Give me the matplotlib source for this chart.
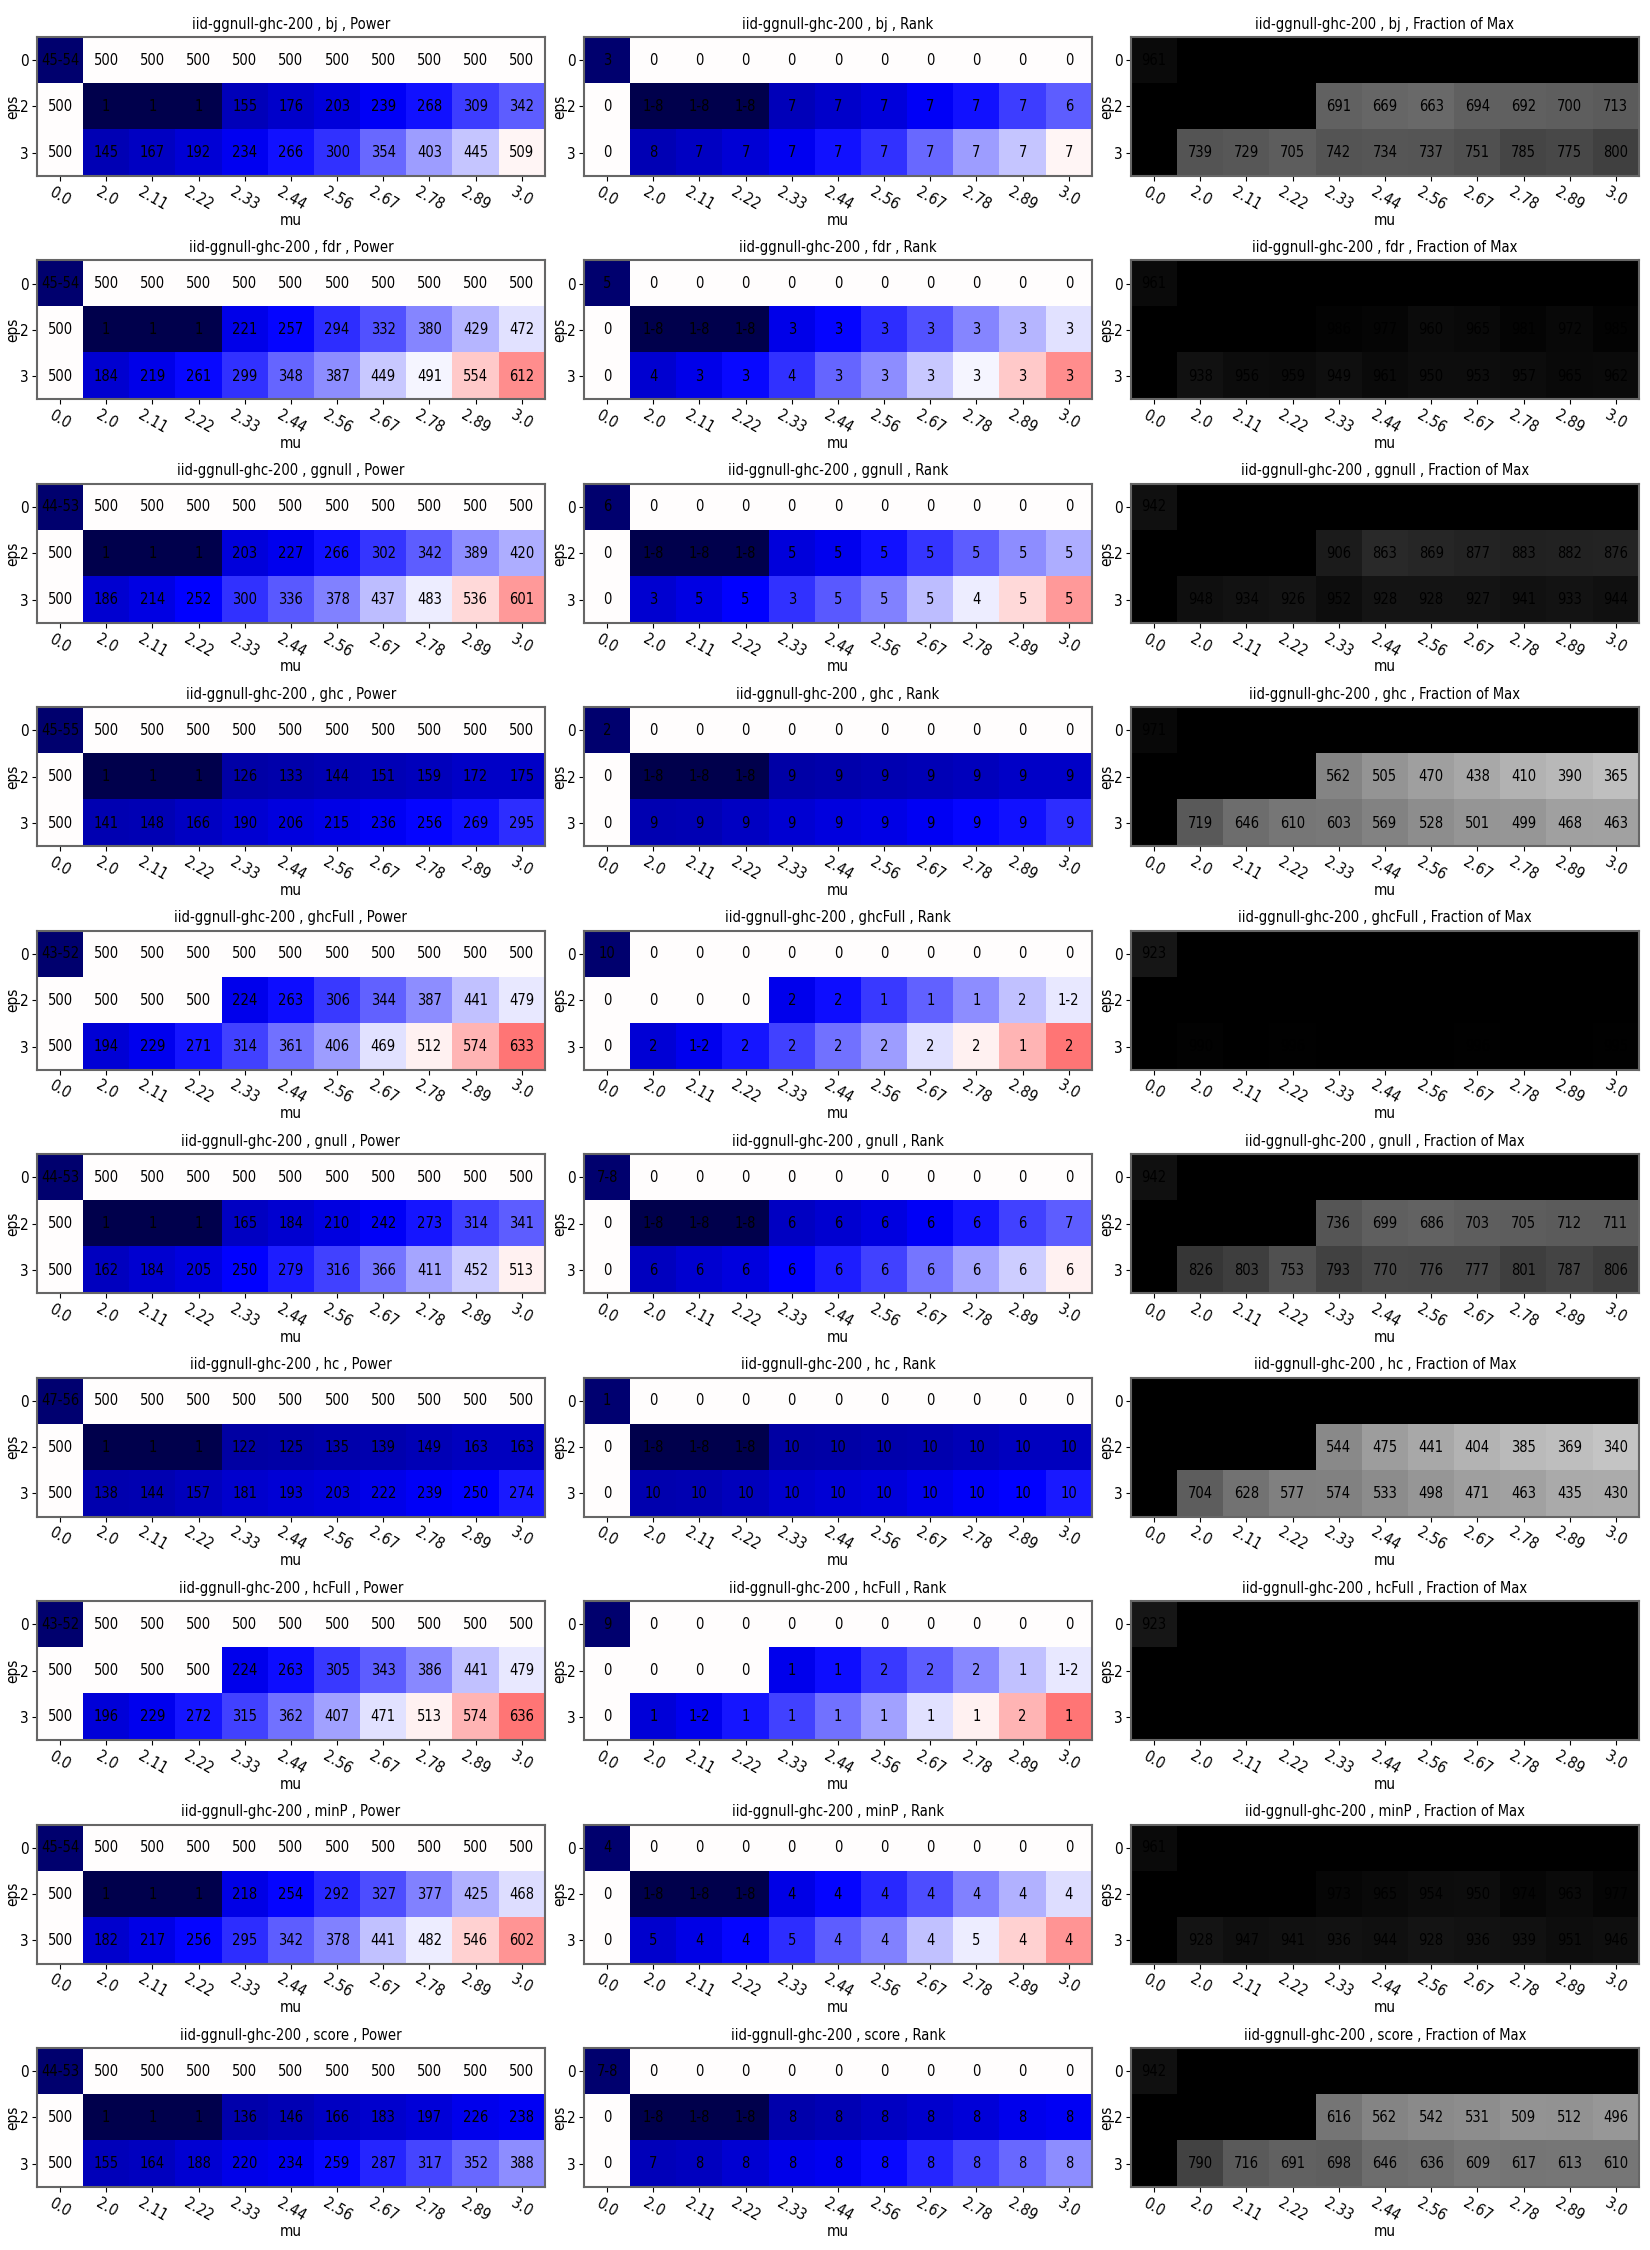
import numpy as np
import matplotlib
matplotlib.use('Agg')
import matplotlib.pyplot as plt

# Names used in the panel titles and on the axes.
SETTING = 'iid-ggnull-ghc-200'
METHODS = ['bj', 'fdr', 'ggnull', 'ghc', 'ghcFull', 'gnull', 'hc', 'hcFull', 'minP', 'score']
MU_LABELS = ['0.0', '2.0', '2.11', '2.22', '2.33', '2.44', '2.56', '2.67', '2.78', '2.89', '3.0']
EPS_LABELS = ['0', '2', '3']

# eps=0, mu=0 cell: power range, rank and fraction of max for every method.
NULL_POWER_LO = [45, 45, 44, 45, 43, 44, 47, 43, 45, 44]
NULL_POWER_HI = [54, 54, 53, 55, 52, 53, 56, 52, 54, 53]
NULL_RANK = ['3', '5', '6', '2', '10', '7-8', '1', '9', '4', '7-8']
NULL_FRAC = [961, 961, 942, 971, 923, 942, 1000, 923, 961, 942]

# Power, eps=2 row (one value per mu).
POWER_EPS2 = {
    'bj':      [500, 1, 1, 1, 155, 176, 203, 239, 268, 309, 342],
    'fdr':     [500, 1, 1, 1, 221, 257, 294, 332, 380, 429, 472],
    'ggnull':  [500, 1, 1, 1, 203, 227, 266, 302, 342, 389, 420],
    'ghc':     [500, 1, 1, 1, 126, 133, 144, 151, 159, 172, 175],
    'ghcFull': [500, 500, 500, 500, 224, 263, 306, 344, 387, 441, 479],
    'gnull':   [500, 1, 1, 1, 165, 184, 210, 242, 273, 314, 341],
    'hc':      [500, 1, 1, 1, 122, 125, 135, 139, 149, 163, 163],
    'hcFull':  [500, 500, 500, 500, 224, 263, 305, 343, 386, 441, 479],
    'minP':    [500, 1, 1, 1, 218, 254, 292, 327, 377, 425, 468],
    'score':   [500, 1, 1, 1, 136, 146, 166, 183, 197, 226, 238],
}

# Power, eps=3 row.
POWER_EPS3 = {
    'bj':      [500, 145, 167, 192, 234, 266, 300, 354, 403, 445, 509],
    'fdr':     [500, 184, 219, 261, 299, 348, 387, 449, 491, 554, 612],
    'ggnull':  [500, 186, 214, 252, 300, 336, 378, 437, 483, 536, 601],
    'ghc':     [500, 141, 148, 166, 190, 206, 215, 236, 256, 269, 295],
    'ghcFull': [500, 194, 229, 271, 314, 361, 406, 469, 512, 574, 633],
    'gnull':   [500, 162, 184, 205, 250, 279, 316, 366, 411, 452, 513],
    'hc':      [500, 138, 144, 157, 181, 193, 203, 222, 239, 250, 274],
    'hcFull':  [500, 196, 229, 272, 315, 362, 407, 471, 513, 574, 636],
    'minP':    [500, 182, 217, 256, 295, 342, 378, 441, 482, 546, 602],
    'score':   [500, 155, 164, 188, 220, 234, 259, 287, 317, 352, 388],
}

# Rank labels, eps=2 row.
RANK_EPS2 = {
    'bj':      ['0', '1-8', '1-8', '1-8', '7', '7', '7', '7', '7', '7', '6'],
    'fdr':     ['0', '1-8', '1-8', '1-8', '3', '3', '3', '3', '3', '3', '3'],
    'ggnull':  ['0', '1-8', '1-8', '1-8', '5', '5', '5', '5', '5', '5', '5'],
    'ghc':     ['0', '1-8', '1-8', '1-8', '9', '9', '9', '9', '9', '9', '9'],
    'ghcFull': ['0', '0', '0', '0', '2', '2', '1', '1', '1', '2', '1-2'],
    'gnull':   ['0', '1-8', '1-8', '1-8', '6', '6', '6', '6', '6', '6', '7'],
    'hc':      ['0', '1-8', '1-8', '1-8', '10', '10', '10', '10', '10', '10', '10'],
    'hcFull':  ['0', '0', '0', '0', '1', '1', '2', '2', '2', '1', '1-2'],
    'minP':    ['0', '1-8', '1-8', '1-8', '4', '4', '4', '4', '4', '4', '4'],
    'score':   ['0', '1-8', '1-8', '1-8', '8', '8', '8', '8', '8', '8', '8'],
}

# Rank labels, eps=3 row.
RANK_EPS3 = {
    'bj':      ['0', '8', '7', '7', '7', '7', '7', '7', '7', '7', '7'],
    'fdr':     ['0', '4', '3', '3', '4', '3', '3', '3', '3', '3', '3'],
    'ggnull':  ['0', '3', '5', '5', '3', '5', '5', '5', '4', '5', '5'],
    'ghc':     ['0', '9', '9', '9', '9', '9', '9', '9', '9', '9', '9'],
    'ghcFull': ['0', '2', '1-2', '2', '2', '2', '2', '2', '2', '1', '2'],
    'gnull':   ['0', '6', '6', '6', '6', '6', '6', '6', '6', '6', '6'],
    'hc':      ['0', '10', '10', '10', '10', '10', '10', '10', '10', '10', '10'],
    'hcFull':  ['0', '1', '1-2', '1', '1', '1', '1', '1', '1', '2', '1'],
    'minP':    ['0', '5', '4', '4', '5', '4', '4', '4', '5', '4', '4'],
    'score':   ['0', '7', '8', '8', '8', '8', '8', '8', '8', '8', '8'],
}

# Fraction of max (x1000), eps=2 row.
FRAC_EPS2 = {
    'bj':      [1000, 1000, 1000, 1000, 691, 669, 663, 694, 692, 700, 713],
    'fdr':     [1000, 1000, 1000, 1000, 986, 977, 960, 965, 981, 972, 985],
    'ggnull':  [1000, 1000, 1000, 1000, 906, 863, 869, 877, 883, 882, 876],
    'ghc':     [1000, 1000, 1000, 1000, 562, 505, 470, 438, 410, 390, 365],
    'ghcFull': [1000, 1000, 1000, 1000, 1000, 1000, 1000, 1000, 1000, 1000, 1000],
    'gnull':   [1000, 1000, 1000, 1000, 736, 699, 686, 703, 705, 712, 711],
    'hc':      [1000, 1000, 1000, 1000, 544, 475, 441, 404, 385, 369, 340],
    'hcFull':  [1000, 1000, 1000, 1000, 1000, 1000, 997, 997, 997, 1000, 1000],
    'minP':    [1000, 1000, 1000, 1000, 973, 965, 954, 950, 974, 963, 977],
    'score':   [1000, 1000, 1000, 1000, 616, 562, 542, 531, 509, 512, 496],
}

# Fraction of max (x1000), eps=3 row.
FRAC_EPS3 = {
    'bj':      [1000, 739, 729, 705, 742, 734, 737, 751, 785, 775, 800],
    'fdr':     [1000, 938, 956, 959, 949, 961, 950, 953, 957, 965, 962],
    'ggnull':  [1000, 948, 934, 926, 952, 928, 928, 927, 941, 933, 944],
    'ghc':     [1000, 719, 646, 610, 603, 569, 528, 501, 499, 468, 463],
    'ghcFull': [1000, 990, 1000, 996, 997, 997, 998, 996, 998, 1000, 995],
    'gnull':   [1000, 826, 803, 753, 793, 770, 776, 777, 801, 787, 806],
    'hc':      [1000, 704, 628, 577, 574, 533, 498, 471, 463, 435, 430],
    'hcFull':  [1000, 1000, 1000, 1000, 1000, 1000, 1000, 1000, 1000, 1000, 1000],
    'minP':    [1000, 928, 947, 941, 936, 944, 928, 936, 939, 951, 946],
    'score':   [1000, 790, 716, 691, 698, 646, 636, 609, 617, 613, 610],
}

plt.rcParams['font.family'] = ['DejaVu Sans']
plt.rcParams['font.stretch'] = 'condensed'
FS = 10.5


def build_tables(k, method):
    """Builds the colour grid and the three label grids for one method."""
    n = len(MU_LABELS)
    lo, hi = NULL_POWER_LO[k], NULL_POWER_HI[k]
    # Colour values for power / rank panels (range midpoint for the null cell).
    power = np.array([[(lo + hi) / 2.0] + [500] * (n - 1),
                      POWER_EPS2[method],
                      POWER_EPS3[method]], dtype=float)
    power_txt = [[f'{lo}-{hi}'] + ['500'] * (n - 1),
                 [str(v) for v in POWER_EPS2[method]],
                 [str(v) for v in POWER_EPS3[method]]]
    rank_txt = [[NULL_RANK[k]] + ['0'] * (n - 1),
                RANK_EPS2[method],
                RANK_EPS3[method]]
    frac = np.array([[NULL_FRAC[k]] + [1000] * (n - 1),
                     FRAC_EPS2[method],
                     FRAC_EPS3[method]], dtype=float)
    frac_txt = [[str(int(v)) for v in row] for row in frac]
    return power, power_txt, rank_txt, frac, frac_txt


def draw_panel(ax, values, labels, cmap, title):
    """Draws one annotated heatmap."""
    ax.imshow(values, cmap=cmap, vmin=0, vmax=1000, aspect='auto')
    for i in range(values.shape[0]):
        for j in range(values.shape[1]):
            ax.text(j, i, labels[i][j], ha='center', va='center',
                    color='black', fontsize=FS)
    ax.set_title(title, fontsize=10.5)
    ax.set_xticks(np.arange(len(MU_LABELS)))
    ax.set_xticklabels(MU_LABELS, rotation=-30, fontsize=11)
    ax.set_yticks(np.arange(len(EPS_LABELS)))
    ax.set_yticklabels(EPS_LABELS, fontsize=11)
    ax.tick_params(axis='both', length=3.5, pad=2.5)
    ax.set_xlabel('mu', fontsize=11, labelpad=0)
    ax.set_ylabel('eps', fontsize=11, labelpad=0)
    for sp in ax.spines.values():
        sp.set_color('#666666')
        sp.set_linewidth(1.5)


def main():
    """Draws the full grid of heatmaps and saves it."""
    fig, axes = plt.subplots(len(METHODS), 3, figsize=(16.5, 22.5), dpi=100)
    fig.subplots_adjust(left=0.0224, right=0.9933, top=0.9836, bottom=0.028,
                        wspace=0.077, hspace=0.607)
    for k, method in enumerate(METHODS):
        power, power_txt, rank_txt, frac, frac_txt = build_tables(k, method)
        draw_panel(axes[k, 0], power, power_txt, 'seismic',
                   f'{SETTING} , {method} , Power')
        draw_panel(axes[k, 1], power, rank_txt, 'seismic',
                   f'{SETTING} , {method} , Rank')
        draw_panel(axes[k, 2], frac, frac_txt, 'Greys',
                   f'{SETTING} , {method} , Fraction of Max')
    fig.savefig('out.png', dpi=100)


if __name__ == "__main__":
    main()
